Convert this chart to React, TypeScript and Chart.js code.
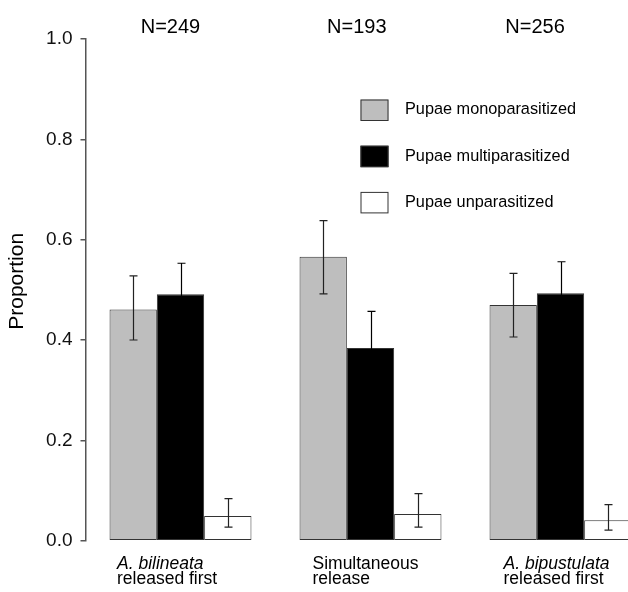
import React, { useEffect, useRef } from "react";
import { Chart, registerables } from "chart.js";

Chart.register(...registerables);

// ---------- data ----------
const categoryLine1 = ["A. bilineata", "Simultaneous", "A. bipustulata"];
const categoryLine2 = ["released first", "release", "released first"];
const line1Italic = [true, false, true];
const nLabels = ["N=249", "N=193", "N=256"];
const yAxisTitle = "Proportion";

const seriesNames = ["Pupae monoparasitized", "Pupae multiparasitized", "Pupae unparasitized"];

const monoValues = [0.461, 0.566, 0.47];
const monoLow = [0.4, 0.492, 0.406];
const monoHigh = [0.528, 0.638, 0.533];

const multiValues = [0.491, 0.384, 0.493];
const multiLow = [0.429, 0.311, 0.43];
const multiHigh = [0.553, 0.457, 0.556];

const unparValues = [0.049, 0.053, 0.041];
const unparLow = [0.027, 0.027, 0.021];
const unparHigh = [0.084, 0.094, 0.072];

const yTickValues = [0, 0.2, 0.4, 0.6, 0.8, 1.0];

// ---------- styles / layout ----------
const FONT = '"Liberation Sans", Arial, Helvetica, sans-serif';
const seriesColors = ["#bebebe", "#000000", "#ffffff"];
const CANVAS_W = 680;
const CANVAS_H = 592;
const nLabelOffsets = [-0.053, -0.072, -0.134]; // in category units
const catLabelOffsets = [-63.5, -58, -57]; // px from category center

export default function App() {
  const ref = useRef<HTMLCanvasElement | null>(null);

  useEffect(() => {
    if (!ref.current) return;
    const lows = [monoLow, multiLow, unparLow];
    const highs = [monoHigh, multiHigh, unparHigh];

    const errorBars = {
      id: "errorBars",
      afterDatasetsDraw(chart: any) {
        const ctx = chart.ctx;
        const ys = chart.scales.y;
        ctx.save();
        ctx.lineWidth = 1.2;
        chart.data.datasets.forEach((_: any, di: number) => {
          const meta = chart.getDatasetMeta(di);
          meta.data.forEach((bar: any, j: number) => {
            const x = Math.round(bar.x) + 0.5;
            const yl = ys.getPixelForValue(lows[di][j]);
            const yh = ys.getPixelForValue(highs[di][j]);
            ctx.strokeStyle = di === 1 ? "#000" : "#222";
            ctx.beginPath();
            ctx.moveTo(x, yl);
            ctx.lineTo(x, yh);
            ctx.moveTo(x - 4, yh);
            ctx.lineTo(x + 4, yh);
            ctx.moveTo(x - 4, yl);
            ctx.lineTo(x + 4, yl);
            ctx.stroke();
          });
        });
        ctx.restore();
      },
    };

    const annotations = {
      id: "annotations",
      afterDraw(chart: any) {
        const ctx = chart.ctx;
        const xs = chart.scales.x;
        const area = chart.chartArea;
        const catW = xs.getPixelForValue(1) - xs.getPixelForValue(0);
        ctx.save();
        ctx.fillStyle = "#000";
        // y axis title
        ctx.save();
        ctx.translate(area.left - 68, (area.top + area.bottom) / 2 - 8.5);
        ctx.rotate(-Math.PI / 2);
        ctx.font = `21px ${FONT}`;
        ctx.textAlign = "center";
        ctx.textBaseline = "middle";
        ctx.fillText(yAxisTitle, 0, 0);
        ctx.restore();
        // N labels
        ctx.font = `20px ${FONT}`;
        ctx.textAlign = "center";
        ctx.textBaseline = "alphabetic";
        nLabels.forEach((t, i) => {
          const x = xs.getPixelForValue(i) + nLabelOffsets[i] * catW;
          ctx.fillText(t, x, area.top - 6.5);
        });
        // category labels
        ctx.textAlign = "left";
        categoryLine1.forEach((t, i) => {
          const x = xs.getPixelForValue(i) + catLabelOffsets[i];
          ctx.font = `${line1Italic[i] ? "italic " : ""}17.5px ${FONT}`;
          ctx.fillText(t, x, area.bottom + 28.2);
          ctx.font = `17.5px ${FONT}`;
          ctx.fillText(categoryLine2[i], x, area.bottom + 43.6);
        });
        // legend
        const lx = area.left + 275;
        const ly = area.top + 60.5;
        const step = 46.2;
        chart.data.datasets.forEach((ds: any, i: number) => {
          const y = ly + i * step;
          ctx.fillStyle = ds.backgroundColor;
          ctx.fillRect(lx, y, 28, 21.5);
          ctx.strokeStyle = "#333";
          ctx.lineWidth = 1;
          ctx.strokeRect(lx + 0.5, y + 0.5, 27, 20.5);
          ctx.fillStyle = "#000";
          ctx.font = `16.3px ${FONT}`;
          ctx.textBaseline = "middle";
          ctx.fillText(ds.label, lx + 44.5, y + 10.5);
        });
        ctx.restore();
      },
    };

    const chart = new Chart(ref.current, {
      type: "bar",
      data: {
        labels: categoryLine1.map((c, i) => `${c} ${categoryLine2[i]}`),
        datasets: [
          { label: seriesNames[0], data: monoValues, backgroundColor: seriesColors[0] },
          { label: seriesNames[1], data: multiValues, backgroundColor: seriesColors[1] },
          { label: seriesNames[2], data: unparValues, backgroundColor: seriesColors[2] },
        ].map((d) => ({
          ...d,
          borderColor: "#333",
          borderWidth: 1,
          borderSkipped: false as any,
          categoryPercentage: 0.747,
          barPercentage: 1,
        })),
      },
      options: {
        responsive: false,
        animation: false,
        devicePixelRatio: 1,
        layout: { padding: { left: 0, right: CANVAS_W - 655.5, top: 39, bottom: CANVAS_H - 540.7 } },
        plugins: { legend: { display: false }, tooltip: { enabled: false } },
        scales: {
          x: { type: "category", display: false },
          y: {
            min: 0,
            max: 1,
            afterBuildTicks: (s: any) => {
              s.ticks = yTickValues.map((v) => ({ value: v }));
            },
            afterFit: (s: any) => {
              s.width = 85.5;
            },
            ticks: {
              color: "#111",
              font: { family: FONT, size: 19 },
              padding: 8,
              callback: (v: any) => Number(v).toFixed(1),
            },
            grid: {
              drawOnChartArea: false,
              drawTicks: true,
              tickLength: 5,
              color: "#555",
              lineWidth: 1.5,
            },
            border: { display: true, color: "#555", width: 1.5 },
            title: { display: false },
          },
        },
      },
      plugins: [errorBars, annotations],
    });
    return () => chart.destroy();
  }, []);

  return (
    <div
      style={{
        position: "fixed",
        left: 0,
        top: 0,
        width: 628,
        height: 592,
        overflow: "hidden",
        background: "#fff",
      }}
    >
      <canvas ref={ref} width={CANVAS_W} height={CANVAS_H} style={{ display: "block" }} />
    </div>
  );
}
